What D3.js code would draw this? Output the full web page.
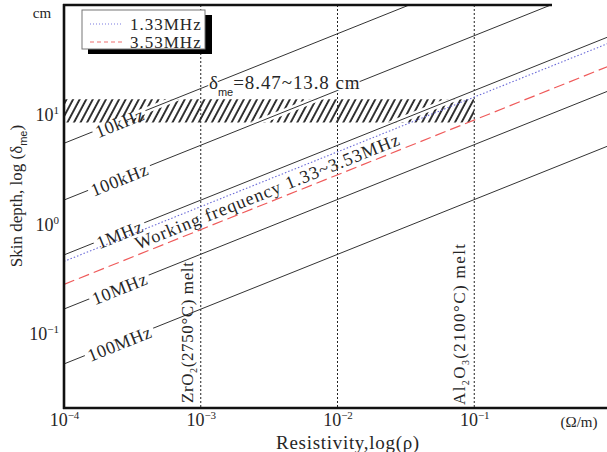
<!DOCTYPE html>
<html><head><meta charset="utf-8">
<script src="https://cdn.jsdelivr.net/npm/d3@7"></script>
<style>
body{margin:0;background:#fff}
svg{display:block}
text{font-family:"Liberation Serif",serif;fill:#262626}
</style>
</head><body><svg id="c" width="607" height="452"></svg>
<script>
// ---- data ----
const freqNames = ["10kHz","100kHz","1MHz","10MHz","100MHz"];
const rhoEnds = [1e-4, 1];                 // resistivity at both ends of each line (Ω·m)
const freqDepthStart = [5.47, 1.66, 0.524, 0.168, 0.053];   // skin depth (cm) at rho=1e-4
const freqDepthEnd   = [547, 166, 52.4, 16.8, 5.3];         // skin depth (cm) at rho=1
const workNames = ["1.33MHz","3.53MHz"];
const workDepthStart = [0.457, 0.282];
const workDepthEnd   = [45.7, 28.2];
const bandDepth = [8.47, 13.8];
const bandRho = [1e-4, 1e-1];
const meltRho = [1e-3, 1e-2, 1e-1];
const xTicks = [1e-4, 1e-3, 1e-2, 1e-1];
const xTickExp = ["−4","−3","−2","−1"];
const yTicks = [0.1, 1, 10];
const yTickExp = ["−1","0","1"];

// ---- layout ----
const L=64, T=5, B=408, R=607;
const svg = d3.select("#c");
const x = d3.scaleLog().domain([1e-4, 1]).range([L, 611]);
const y = d3.scaleLog().domain([0.021, 100]).range([B, T]);

const defs = svg.append("defs");
defs.append("clipPath").attr("id","plot").append("rect")
  .attr("x",L).attr("y",T).attr("width",R-L).attr("height",B-T);
const pat = defs.append("pattern").attr("id","hatch").attr("patternUnits","userSpaceOnUse")
  .attr("width",5.8).attr("height",10).attr("patternTransform","rotate(28)");
pat.append("line").attr("x1",1).attr("y1",-2).attr("x2",1).attr("y2",12)
  .attr("stroke","#2a2a2a").attr("stroke-width",1.9);
defs.append("clipPath").attr("id","band").append("rect")
  .attr("x",x(bandRho[0])).attr("y",y(bandDepth[1]))
  .attr("width",x(bandRho[1])-x(bandRho[0])).attr("height",y(bandDepth[0])-y(bandDepth[1]));

const plot = svg.append("g").attr("clip-path","url(#plot)");

// hatched band
plot.append("rect")
  .attr("x",x(bandRho[0])).attr("y",y(bandDepth[1]))
  .attr("width",x(bandRho[1])-x(bandRho[0])).attr("height",y(bandDepth[0])-y(bandDepth[1]))
  .attr("fill","url(#hatch)");

// melt dotted verticals
plot.selectAll("line.melt").data(meltRho).join("line").attr("class","melt")
  .attr("x1",d=>x(d)).attr("x2",d=>x(d)).attr("y1",T).attr("y2",B)
  .attr("stroke","#222").attr("stroke-width",1).attr("stroke-dasharray","2,2");

const lineGen = d3.line().x(d=>x(d[0])).y(d=>y(d[1]));
const freqLines = freqNames.map((n,i)=>({name:n, pts:[[rhoEnds[0],freqDepthStart[i]],[rhoEnds[1],freqDepthEnd[i]]]}));
const workLines = workNames.map((n,i)=>({name:n, pts:[[rhoEnds[0],workDepthStart[i]],[rhoEnds[1],workDepthEnd[i]]]}));

// white halo where lines cross the hatched band
plot.append("g").attr("clip-path","url(#band)").selectAll("path").data(freqLines).join("path")
  .attr("d",d=>lineGen(d.pts)).attr("fill","none").attr("stroke","#fff").attr("stroke-width",6);

plot.selectAll("path.freq").data(freqLines).join("path").attr("class","freq")
  .attr("d",d=>lineGen(d.pts)).attr("fill","none").attr("stroke","#333").attr("stroke-width",1);

plot.append("path").attr("d",lineGen(workLines[0].pts)).attr("fill","none")
  .attr("stroke","#6a6ad8").attr("stroke-width",1.1).attr("stroke-dasharray","1.5,2");
plot.append("path").attr("d",lineGen(workLines[1].pts)).attr("fill","none")
  .attr("stroke","#ef5a5a").attr("stroke-width",1.2).attr("stroke-dasharray","11,5");

// helpers for labels on lines
function depthAt(rho, pts){
  const t=(Math.log10(rho)-Math.log10(pts[0][0]))/(Math.log10(pts[1][0])-Math.log10(pts[0][0]));
  return Math.pow(10, Math.log10(pts[0][1]) + t*(Math.log10(pts[1][1])-Math.log10(pts[0][1])));
}
function angleOf(pts){
  return Math.atan2(y(pts[1][1])-y(pts[0][1]), x(pts[1][0])-x(pts[0][0]))*180/Math.PI;
}
freqLines.forEach(fl=>{
  const px=119, rho=x.invert(px), py=y(depthAt(rho, fl.pts)), a=angleOf(fl.pts);
  const g=svg.append("g").attr("transform",`translate(${px},${py}) rotate(${a})`);
  const rect=g.append("rect").attr("fill","#fff");
  const t=g.append("text").attr("x",0).attr("y",2).attr("text-anchor","middle")
    .attr("dominant-baseline","central").attr("font-size",18).attr("letter-spacing",0.6).text(fl.name);
  const bb=t.node().getBBox();
  rect.attr("x",bb.x-3).attr("y",-3).attr("width",bb.width+6).attr("height",6);
});

// working frequency label
{
  const px=267, rho=x.invert(px);
  const dm=Math.sqrt(depthAt(rho,workLines[0].pts)*depthAt(rho,workLines[1].pts));
  svg.append("text").attr("transform",`translate(${px},${y(dm)}) rotate(${angleOf(workLines[0].pts)})`)
    .attr("text-anchor","middle").attr("dominant-baseline","central").attr("font-size",18)
    .attr("textLength",283).attr("lengthAdjust","spacing")
    .text("Working frequency 1.33~3.53MHz");
}

// delta label
{
  const t=svg.append("text").attr("x",209).attr("y",89).attr("font-size",19)
    .attr("stroke","#fff").attr("stroke-width",3).attr("paint-order","stroke");
  t.append("tspan").text("δ");
  t.append("tspan").attr("dy",7).attr("font-size",11).attr("font-family","Liberation Sans, sans-serif").text("me");
  t.append("tspan").attr("dy",-7).attr("letter-spacing",0.9).text("=8.47~13.8 cm");
}

// melt labels
function vlabel(xb, yb, ls, parts){
  const t=svg.append("text").attr("transform",`translate(${xb},${yb}) rotate(-90)`).attr("font-size",17)
    .attr("letter-spacing",ls);
  parts.forEach(p=>{
    const s=t.append("tspan").text(p[0]);
    if(p[1]) s.attr("font-size",10).attr("dy",4);
    else if(p[2]) s.attr("dy",-4);
  });
}
vlabel(193, 403, 0.6, [["ZrO"],["2",true],["(2750°C) melt",false,true]]);
vlabel(465, 405, 1.4, [["Al"],["2",true],["O",false,true],["3",true],["(2100°C) melt",false,true]]);

// frame
svg.append("line").attr("x1",L).attr("x2",L).attr("y1",T-1).attr("y2",B+1).attr("stroke","#111").attr("stroke-width",2.6);
svg.append("line").attr("x1",L-1).attr("x2",R).attr("y1",B).attr("y2",B).attr("stroke","#111").attr("stroke-width",2.6);
svg.append("line").attr("x1",L-1).attr("x2",552).attr("y1",T).attr("y2",T).attr("stroke","#111").attr("stroke-width",2.6);

// axes
const xAxis = svg.append("g").attr("transform",`translate(0,${B})`)
  .call(d3.axisBottom(x).tickValues(xTicks).tickSize(0));
xAxis.select(".domain").remove();
xAxis.attr("font-family",null).attr("font-size",null);
xAxis.selectAll(".tick text").each(function(d,i){
  const t=d3.select(this).attr("y",18).attr("dy",0).attr("font-size",18).attr("fill","#262626");
  t.text(null);
  t.append("tspan").text("10");
  t.append("tspan").attr("dy",-7).attr("font-size",11).text(xTickExp[i]);
});
const yAxis = svg.append("g").attr("transform",`translate(${L},0)`)
  .call(d3.axisLeft(y).tickValues(yTicks).tickSize(0));
yAxis.select(".domain").remove();
yAxis.attr("font-family",null).attr("font-size",null);
yAxis.selectAll(".tick text").each(function(d,i){
  const t=d3.select(this).attr("x",-5).attr("dy","0.34em").attr("font-size",18).attr("fill","#262626");
  t.text(null);
  t.append("tspan").text("10");
  t.append("tspan").attr("dy",-7).attr("font-size",11).text(yTickExp[i]);
});

// units and titles
svg.append("text").attr("x",42).attr("y",18).attr("text-anchor","middle").attr("font-size",15).text("cm");
svg.append("text").attr("x",579).attr("y",427).attr("text-anchor","middle").attr("font-size",15).text("(Ω/m)");
svg.append("text").attr("x",348).attr("y",449).attr("text-anchor","middle").attr("font-size",19)
  .attr("letter-spacing",0.7).text("Resistivity,log(ρ)");
{
  const t=svg.append("text").attr("transform","translate(22,196) rotate(-90)").attr("text-anchor","middle")
    .attr("font-size",17);
  t.append("tspan").text("Skin depth, log (δ");
  t.append("tspan").attr("dy",5).attr("font-size",11).attr("font-family","Liberation Sans, sans-serif").text("me");
  t.append("tspan").attr("dy",-5).text(")");
}

// legend
const lg = svg.append("g");
lg.append("rect").attr("x",88).attr("y",15).attr("width",124).attr("height",39).attr("fill","#000");
lg.append("rect").attr("x",82).attr("y",10).attr("width",123).attr("height",39).attr("fill","#fff")
  .attr("stroke","#777").attr("stroke-width",1);
const legColors=["#7a7ae0","#f07070"], legDash=["1,2","4,3"], legY=[24,42];
workNames.forEach((n,i)=>{
  lg.append("line").attr("x1",90).attr("x2",123).attr("y1",legY[i]).attr("y2",legY[i])
    .attr("stroke",legColors[i]).attr("stroke-width",1.2).attr("stroke-dasharray",legDash[i]);
  lg.append("text").attr("x",130).attr("y",legY[i]).attr("dominant-baseline","central")
    .attr("font-size",17).attr("letter-spacing",1).text(n);
});
</script>
</body></html>
